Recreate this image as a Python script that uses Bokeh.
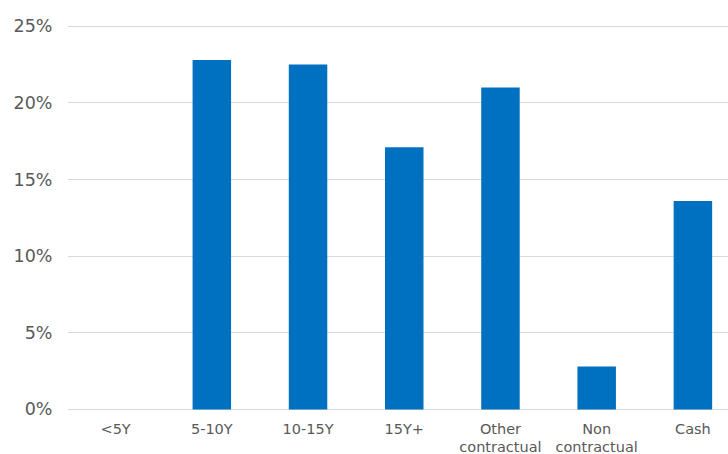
from bokeh.plotting import figure
from bokeh.models import Range1d, FixedTicker, PrintfTickFormatter, ColumnDataSource
from bokeh.core.properties import value
from bokeh.embed import file_html
from bokeh.resources import INLINE

categories = ["<5Y", "5-10Y", "10-15Y", "15Y+", "Other\ncontractual", "Non\ncontractual", "Cash"]
values = [0.0, 22.8, 22.5, 17.1, 21.0, 2.8, 13.6]
y_ticks = [0, 5, 10, 15, 20, 25]

xs = list(range(len(categories)))
src = ColumnDataSource(dict(x=xs, top=values, zero=[0] * len(xs), label=categories))

p = figure(width=728, height=454, output_backend="svg", toolbar_location=None,
           x_range=Range1d(-0.5, 6.37), y_range=Range1d(-2.94, 25.05),
           min_border_left=67, min_border_right=0, min_border_top=25, min_border_bottom=0)

p.vbar(x="x", top="top", bottom=0, width=0.4, source=src, fill_color="#0070C0", line_color=None)

p.text(x="x", y="zero", text="label", source=src, y_offset=12,
       text_align="center", text_baseline="top",
       text_font=value("DejaVu Sans"), text_font_size=value("14.5px"),
       text_color="#595959", text_line_height=1.1)

p.outline_line_color = None
p.background_fill_color = "white"
p.border_fill_color = "white"

p.xgrid.grid_line_color = None
p.ygrid.grid_line_color = "#d9d9d9"
p.ygrid.grid_line_width = 1
p.ygrid.ticker = FixedTicker(ticks=y_ticks)

p.yaxis.ticker = FixedTicker(ticks=y_ticks)
p.yaxis.formatter = PrintfTickFormatter(format="%d%%")
p.yaxis.axis_line_color = None
p.yaxis.major_tick_line_color = None
p.yaxis.minor_tick_line_color = None
p.yaxis.major_label_standoff = 9
p.yaxis.major_label_text_font = "DejaVu Sans"
p.yaxis.major_label_text_font_size = "17.5px"
p.yaxis.major_label_text_color = "#595959"

p.xaxis.visible = False

open("out.html", "w").write(file_html(p, INLINE))
